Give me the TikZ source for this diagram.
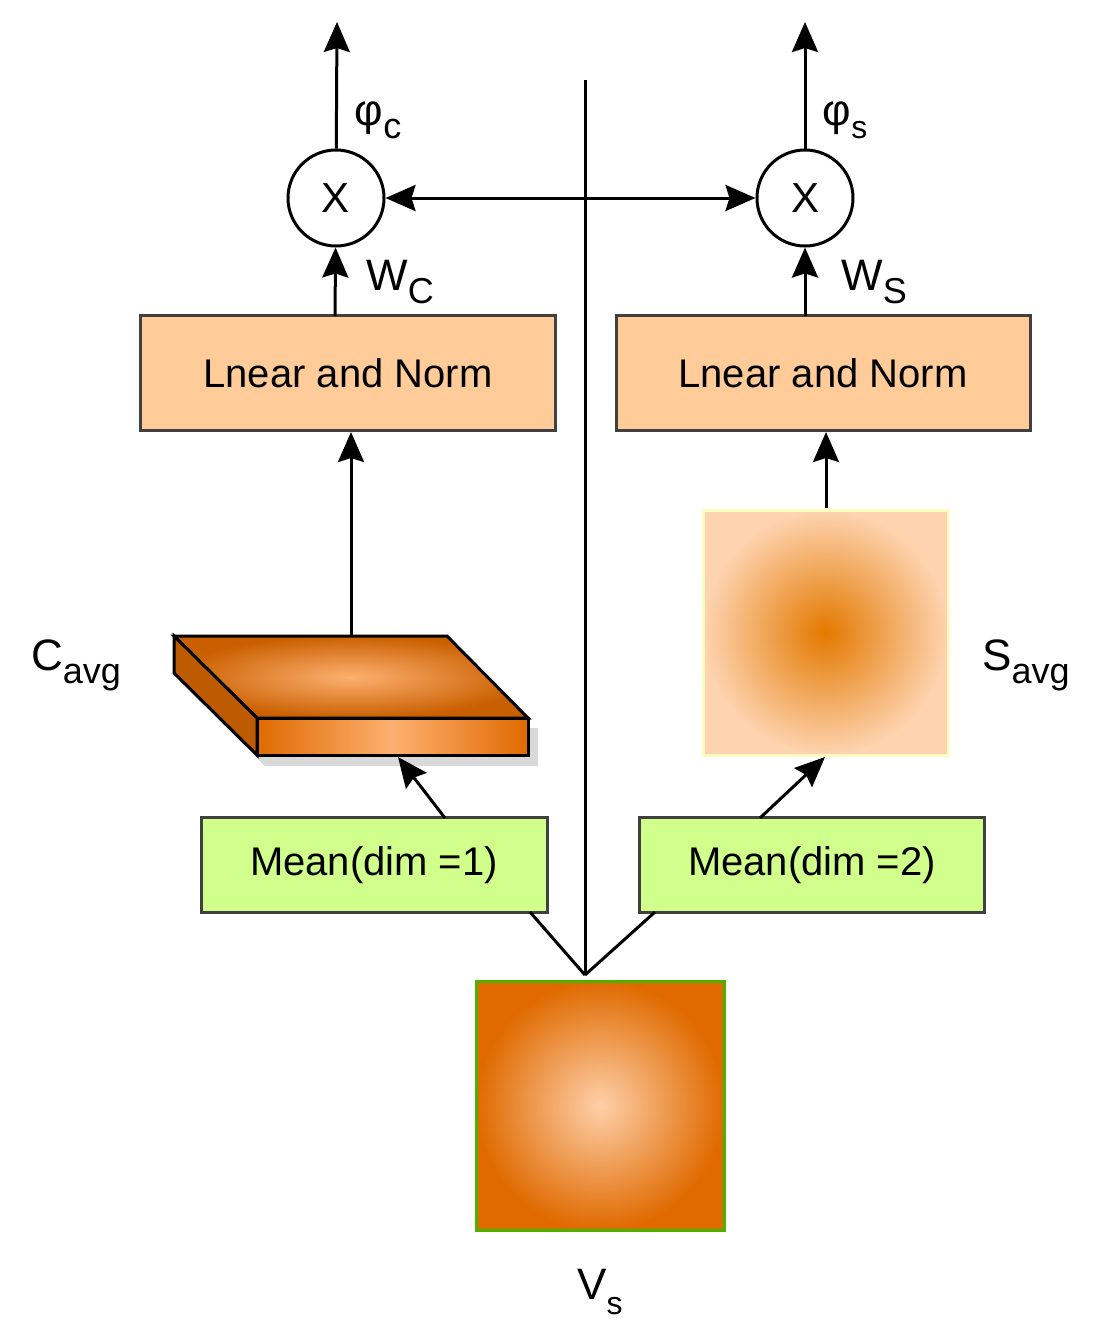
\documentclass[tikz,border=0pt]{standalone}
\usepackage{fontspec}
\setmainfont{Liberation Sans}
\usetikzlibrary{arrows.meta}
\begin{document}
\begin{tikzpicture}[x=1pt,y=-1pt,line width=3pt,
  arr/.style={-{Stealth[length=30pt,width=26pt,inset=4pt]}},
  box/.style={draw=black!75,minimum height=95pt,font=\fontsize{40}{48}\selectfont},
  lab/.style={font=\fontsize{44}{52}\selectfont},
  circ/.style={draw,circle,minimum size=96pt,inner sep=0pt,fill=white,font=\fontsize{42}{50}\selectfont}]
\useasboundingbox (0,0) rectangle (1102,1342);
\definecolor{dk}{HTML}{E06A00}\definecolor{lt}{HTML}{FDB070}
% Vs
\shade[inner color=lt!60!white,outer color=dk] (476,981) rectangle (724,1230);
\draw[draw=green!40!olive,line width=3pt] (476,981) rectangle (724,1230);
\node[lab] (vs) at (600,1292) {V\raisebox{-0.35em}{\fontsize{32}{36}\selectfont s}};
\coordinate (j) at (585,975);
\coordinate (top) at (585,80);
\draw (j) -- (top);
% Mean boxes
\node[box,fill=green!20!lime!45!white,minimum width=346pt] (m1) at (374,865) {Mean(dim =1)};
\node[box,fill=green!20!lime!45!white,minimum width=345pt] (m2) at (812,865) {Mean(dim =2)};
\draw (j) -- (530,912);
\draw (j) -- (655,912);
% slab
\fill[black,opacity=0.15] (182,684) -- (265,766) -- (538,766) -- (538,728) -- (257,728) -- cycle;
\shade[inner color=lt,outer color=dk!90!black] (174,636) -- (447,636) -- (528,718) -- (257,718) -- cycle;
\draw (174,636) -- (447,636) -- (528,718) -- (257,718) -- cycle;
\shade[left color=dk,right color=dk,middle color=lt] (257,718) rectangle (528,755);
\draw (257,718) rectangle (528,755);
\fill[dk!85!black] (174,636) -- (257,718) -- (257,755) -- (174,673) -- cycle;
\draw (174,636) -- (257,718) -- (257,755) -- (174,673) -- cycle;
\coordinate (slabtop) at (351,636);
\draw[arr] (445,818) -- (398,757);
% Savg
\shade[inner color=dk!90!yellow,outer color=lt!55!white] (703,510) rectangle (948,755);
\draw[draw=yellow!25!white,line width=3pt] (703,510) rectangle (948,755);
\draw[arr] (760,818) -- (825,757);
% Lnear boxes
\node[box,fill=orange!40!white,minimum width=415pt,minimum height=115pt] (l1) at (348,373) {Lnear and Norm};
\node[box,fill=orange!40!white,minimum width=414pt,minimum height=115pt] (l2) at (823,373) {Lnear and Norm};
\draw[arr] (slabtop) -- (351,432);
\draw[arr] (826,508) -- (826,432);
% circles
\node[circ] (c1) at (336,198) {X};
\node[circ] (c2) at (805,198) {X};
\draw[arr] (335,316) -- (c1);
\draw[arr] (805,316) -- (c2);
\draw[{Stealth[length=30pt,width=26pt,inset=4pt]}-{Stealth[length=30pt,width=26pt,inset=4pt]}] (c1) -- (c2);
\coordinate (o1) at (337,22); \coordinate (o2) at (805,22);
\draw[arr] (c1) -- (o1);
\draw[arr] (c2) -- (o2);
% labels
\node[lab] (pc) at (378,120) {φ\raisebox{-0.3em}{\fontsize{36}{40}\selectfont c}};
\node[lab] (ps) at (845,120) {φ\raisebox{-0.3em}{\fontsize{32}{36}\selectfont s}};
\node[lab] (wc) at (400,282) {W\raisebox{-0.3em}{\fontsize{36}{40}\selectfont C}};
\node[lab] (ws) at (874,282) {W\raisebox{-0.3em}{\fontsize{36}{40}\selectfont S}};
\node[lab] (ca) at (76,665) {C\raisebox{-0.3em}{\fontsize{36}{40}\selectfont avg}};
\node[lab] (sa) at (1026,665) {S\raisebox{-0.3em}{\fontsize{36}{40}\selectfont avg}};
\end{tikzpicture}
\end{document}
